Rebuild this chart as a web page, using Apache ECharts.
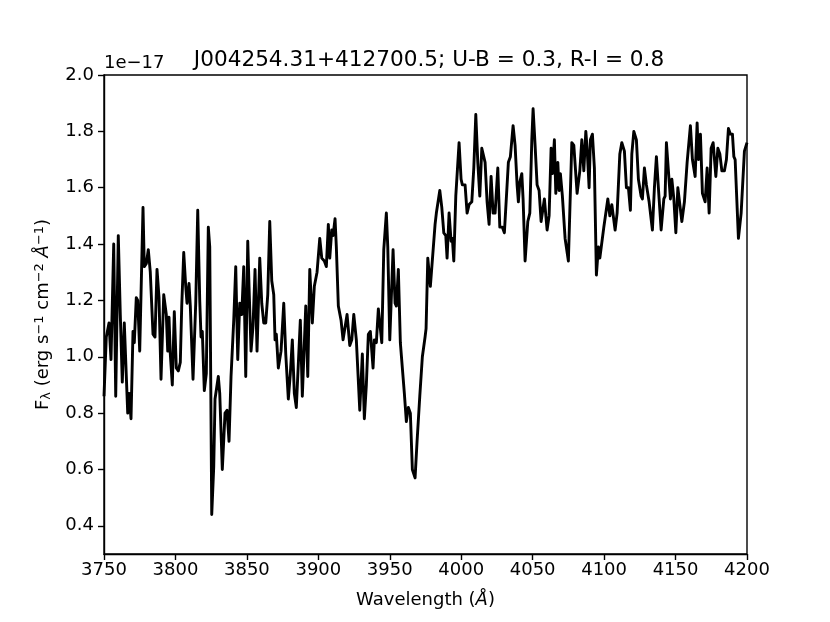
<!DOCTYPE html>
<html>
<head>
<meta charset="utf-8">
<script src="https://cdn.jsdelivr.net/npm/echarts@6/dist/echarts.min.js"></script>
<style>
  html, body { margin: 0; padding: 0; background: #fff; }
  #chart { width: 830px; height: 622px; }
</style>
</head>
<body>
<div id="chart"></div>
<script>
// wavelength in Angstrom
var wavelength = [
  3750.0, 3751.6, 3753.5, 3754.9, 3756.8, 3758.2, 3760.0, 3761.4, 3762.8, 3764.2,
  3766.6, 3767.5, 3768.9, 3770.3, 3771.2, 3772.6, 3773.6, 3775.0, 3777.3, 3778.2,
  3779.6, 3781.0, 3782.4, 3784.3, 3785.7, 3787.1, 3788.5, 3789.9, 3790.8, 3791.8,
  3793.6, 3794.6, 3795.5, 3796.4, 3797.8, 3799.2, 3800.6, 3802.0, 3803.4, 3804.4,
  3805.8, 3807.2, 3808.1, 3809.5, 3810.4, 3812.3, 3814.2, 3815.6, 3817.0, 3817.9,
  3818.8, 3820.2, 3821.6, 3823.0, 3824.0, 3825.4, 3826.8, 3827.7, 3830.0, 3831.0,
  3832.8, 3834.7, 3836.1, 3837.5, 3838.9, 3840.8, 3842.2, 3843.6, 3845.0, 3846.4,
  3847.8, 3849.2, 3850.6, 3851.5, 3852.9, 3854.3, 3855.7, 3857.1, 3859.0, 3860.4,
  3861.8, 3863.2, 3864.6, 3866.0, 3867.4, 3868.8, 3869.7, 3870.6, 3872.0, 3873.9,
  3875.8, 3877.2, 3879.0, 3880.4, 3881.8, 3883.2, 3884.6, 3885.6, 3887.4, 3888.8,
  3891.2, 3892.6, 3894.0, 3895.8, 3897.2, 3899.1, 3901.0, 3902.4, 3904.2, 3905.6,
  3907.0, 3908.0, 3909.4, 3910.3, 3911.7, 3912.6, 3914.0, 3915.9, 3917.3, 3918.2,
  3920.1, 3922.0, 3923.4, 3924.8, 3926.6, 3929.0, 3930.8, 3932.2, 3933.6, 3935.0,
  3936.4, 3938.3, 3939.2, 3940.6, 3942.0, 3943.0, 3944.4, 3945.8, 3947.6, 3948.6,
  3950.0, 3952.3, 3953.7, 3954.6, 3956.0, 3957.4, 3958.8, 3960.2, 3961.6, 3963.0,
  3964.4, 3965.8, 3967.7, 3969.1, 3971.0, 3972.8, 3974.7, 3975.4, 3976.6, 3978.4,
  3981.7, 3982.6, 3983.6, 3985.0, 3986.4, 3987.8, 3989.2, 3990.1, 3991.5, 3992.9,
  3993.8, 3994.8, 3996.2, 3997.1, 3998.5, 3999.9, 4000.8, 4002.7, 4004.1, 4005.5,
  4007.4, 4008.8, 4010.2, 4011.6, 4013.0, 4014.4, 4015.3, 4016.7, 4018.1, 4019.5,
  4020.9, 4022.3, 4023.7, 4025.6, 4027.0, 4028.8, 4030.2, 4033.0, 4034.4, 4036.3,
  4037.7, 4039.1, 4040.0, 4041.0, 4042.4, 4043.3, 4044.7, 4046.6, 4048.0, 4049.4,
  4050.3, 4051.7, 4053.1, 4054.5, 4055.9, 4058.2, 4060.1, 4061.5, 4062.9, 4063.8,
  4065.2, 4066.2, 4067.6, 4068.5, 4069.4, 4070.8, 4072.7, 4075.0, 4077.4, 4078.8,
  4081.1, 4083.0, 4084.4, 4085.8, 4087.2, 4088.1, 4089.5, 4090.4, 4091.8, 4093.2,
  4094.6, 4096.0, 4097.0, 4099.8, 4102.6, 4104.0, 4105.4, 4107.7, 4109.1, 4111.0,
  4112.4, 4114.2, 4115.6, 4117.0, 4118.4, 4119.4, 4120.8, 4122.6, 4124.0, 4125.9,
  4126.8, 4128.2, 4129.6, 4131.5, 4133.8, 4135.2, 4136.6, 4137.6, 4138.5, 4139.9,
  4141.8, 4142.7, 4143.6, 4145.0, 4146.4, 4147.4, 4148.8, 4150.2, 4151.6, 4153.0,
  4154.4, 4156.2, 4158.1, 4160.4, 4161.8, 4163.7, 4165.1, 4166.0, 4167.4, 4168.8,
  4170.7, 4172.1, 4173.5, 4174.9, 4176.3, 4178.2, 4179.6, 4181.0, 4182.4, 4184.2,
  4185.6, 4187.0, 4188.4, 4189.8, 4190.8, 4191.7, 4194.0, 4195.9, 4196.8, 4198.2,
  4200.0
];
// flux, in units of 1e-17 erg/s/cm2/A
var flux = [
  0.86, 1.07, 1.12, 0.99, 1.40, 0.86, 1.43, 1.15, 0.91, 1.12,
  0.80, 0.87, 0.78, 1.09, 1.05, 1.21, 1.20, 1.02, 1.53, 1.32,
  1.33, 1.38, 1.30, 1.08, 1.07, 1.31, 1.21, 0.92, 0.92, 1.22,
  1.15, 1.02, 1.14, 1.01, 0.90, 1.16, 0.96, 0.95, 0.98, 1.18,
  1.37, 1.25, 1.19, 1.26, 1.18, 0.92, 1.19, 1.52, 1.20, 1.07,
  1.09, 0.88, 0.94, 1.46, 1.39, 0.44, 0.61, 0.85, 0.93, 0.87,
  0.60, 0.80, 0.81, 0.70, 0.93, 1.13, 1.32, 0.99, 1.19, 1.15,
  1.32, 0.93, 1.41, 1.25, 1.02, 1.11, 1.31, 1.02, 1.35, 1.19,
  1.12, 1.12, 1.22, 1.48, 1.27, 1.22, 1.06, 1.08, 0.96, 1.02,
  1.19, 1.01, 0.85, 0.94, 1.06, 0.87, 0.82, 0.82, 1.13, 0.86,
  1.18, 0.93, 1.31, 1.12, 1.25, 1.30, 1.42, 1.35, 1.34, 1.32,
  1.47, 1.35, 1.45, 1.43, 1.49, 1.39, 1.18, 1.13, 1.06, 1.06,
  1.15, 1.04, 1.06, 1.15, 1.06, 0.81, 1.01, 0.78, 0.90, 1.08,
  1.09, 0.96, 1.06, 1.05, 1.17, 1.17, 1.05, 1.38, 1.51, 1.39,
  1.06, 1.38, 1.19, 1.18, 1.31, 1.05, 0.96, 0.87, 0.77, 0.82,
  0.80, 0.60, 0.57, 0.70, 0.86, 1.00, 1.07, 1.10, 1.35, 1.25,
  1.47, 1.51, 1.51, 1.59, 1.53, 1.44, 1.43, 1.35, 1.51, 1.41,
  1.42, 1.34, 1.57, 1.57, 1.76, 1.63, 1.61, 1.61, 1.51, 1.54,
  1.55, 1.67, 1.86, 1.69, 1.57, 1.74, 1.74, 1.69, 1.55, 1.47,
  1.64, 1.51, 1.51, 1.67, 1.46, 1.46, 1.44, 1.69, 1.71, 1.82,
  1.75, 1.61, 1.55, 1.62, 1.65, 1.56, 1.34, 1.48, 1.51, 1.77,
  1.88, 1.75, 1.61, 1.59, 1.48, 1.56, 1.45, 1.50, 1.74, 1.65,
  1.77, 1.58, 1.69, 1.59, 1.65, 1.57, 1.42, 1.34, 1.76, 1.75,
  1.58, 1.66, 1.77, 1.66, 1.80, 1.74, 1.60, 1.77, 1.79, 1.67,
  1.29, 1.39, 1.35, 1.46, 1.56, 1.50, 1.54, 1.45, 1.51, 1.72,
  1.76, 1.73, 1.60, 1.60, 1.52, 1.72, 1.80, 1.77, 1.63, 1.57,
  1.56, 1.67, 1.61, 1.55, 1.45, 1.60, 1.71, 1.71, 1.56, 1.45,
  1.56, 1.57, 1.76, 1.66, 1.56, 1.63, 1.56, 1.44, 1.60, 1.54,
  1.48, 1.55, 1.69, 1.82, 1.70, 1.64, 1.83, 1.70, 1.79, 1.58,
  1.55, 1.67, 1.51, 1.74, 1.76, 1.64, 1.74, 1.72, 1.66, 1.66,
  1.70, 1.81, 1.79, 1.79, 1.71, 1.70, 1.42, 1.51, 1.51, 1.73,
  1.76
];
var yTicks = [0.4, 0.6, 0.8, 1.0, 1.2, 1.4, 1.6, 1.8, 2.0];
var titleText = 'J004254.31+412700.5; U-B = 0.3, R-I = 0.8';

var font = 'DejaVu Sans';
var chart = echarts.init(document.getElementById('chart'), null, { renderer: 'canvas' });

var pts = [];
for (var i = 0; i < wavelength.length; i++) {
  pts.push([wavelength[i], flux[i]]);
}

chart.setOption({
  animation: false,
  backgroundColor: '#fff',
  title: {
    text: titleText,
    left: 424,
    top: 44,
    textAlign: 'center',
    textStyle: { fontFamily: font, fontSize: 21.6, fontWeight: 'normal', color: '#000' }
  },
  graphic: [{
    type: 'text',
    left: 104,
    top: 54,
    style: { text: '1e\u221217', font: '18px "DejaVu Sans"', fill: '#000' }
  }],
  grid: {
    left: 104, right: 83, top: 75, bottom: 68,
    show: true, borderColor: '#000', borderWidth: 1.4, backgroundColor: 'transparent'
  },
  xAxis: {
    type: 'value',
    min: 3750, max: 4200, interval: 50,
    name: '{n|Wavelength (}{it|\u00c5}{n|)}',
    nameLocation: 'middle',
    nameGap: 37,
    nameTextStyle: {
      rich: {
        n: { fontFamily: font, fontSize: 18, color: '#000' },
        it: { fontFamily: font, fontSize: 18, fontStyle: 'italic', color: '#000' }
      }
    },
    axisLine: { lineStyle: { color: '#000', width: 1.4 } },
    axisTick: { inside: false, length: 6, lineStyle: { color: '#000', width: 1.4 } },
    axisLabel: {
      fontFamily: font, fontSize: 18, color: '#000', margin: 7,
      formatter: function (v) { return String(v); }
    },
    splitLine: { show: false }
  },
  yAxis: {
    type: 'value',
    min: 0.3, max: 2.0,
    name: '{n|F}{sub|\u03bb}{n| (erg s}{sup|\u22121}{n| cm}{sup|\u22122}{n| }{it|\u00c5}{sup|\u22121}{n|)}',
    nameLocation: 'middle',
    nameRotate: 90,
    nameGap: 50,
    nameTextStyle: {
      rich: {
        n: { fontFamily: font, fontSize: 18, color: '#000' },
        it: { fontFamily: font, fontSize: 18, fontStyle: 'italic', color: '#000' },
        sub: { fontFamily: font, fontSize: 13, color: '#000', padding: [6, 0, 0, 0] },
        sup: { fontFamily: font, fontSize: 13, color: '#000', padding: [0, 0, 8, 0] }
      }
    },
    axisLine: { show: true, lineStyle: { color: '#000', width: 1.4 } },
    axisTick: { show: true, inside: false, length: 6, customValues: yTicks,
      lineStyle: { color: '#000', width: 1.4 } },
    axisLabel: {
      fontFamily: font, fontSize: 18, color: '#000', margin: 10,
      customValues: yTicks,
      formatter: function (v) { return v.toFixed(1); }
    },
    splitLine: { show: false }
  },
  series: [{
    type: 'line',
    data: pts,
    showSymbol: false,
    clip: true,
    lineStyle: { color: '#000', width: 2.9, join: 'round' }
  }]
});
</script>
</body>
</html>
